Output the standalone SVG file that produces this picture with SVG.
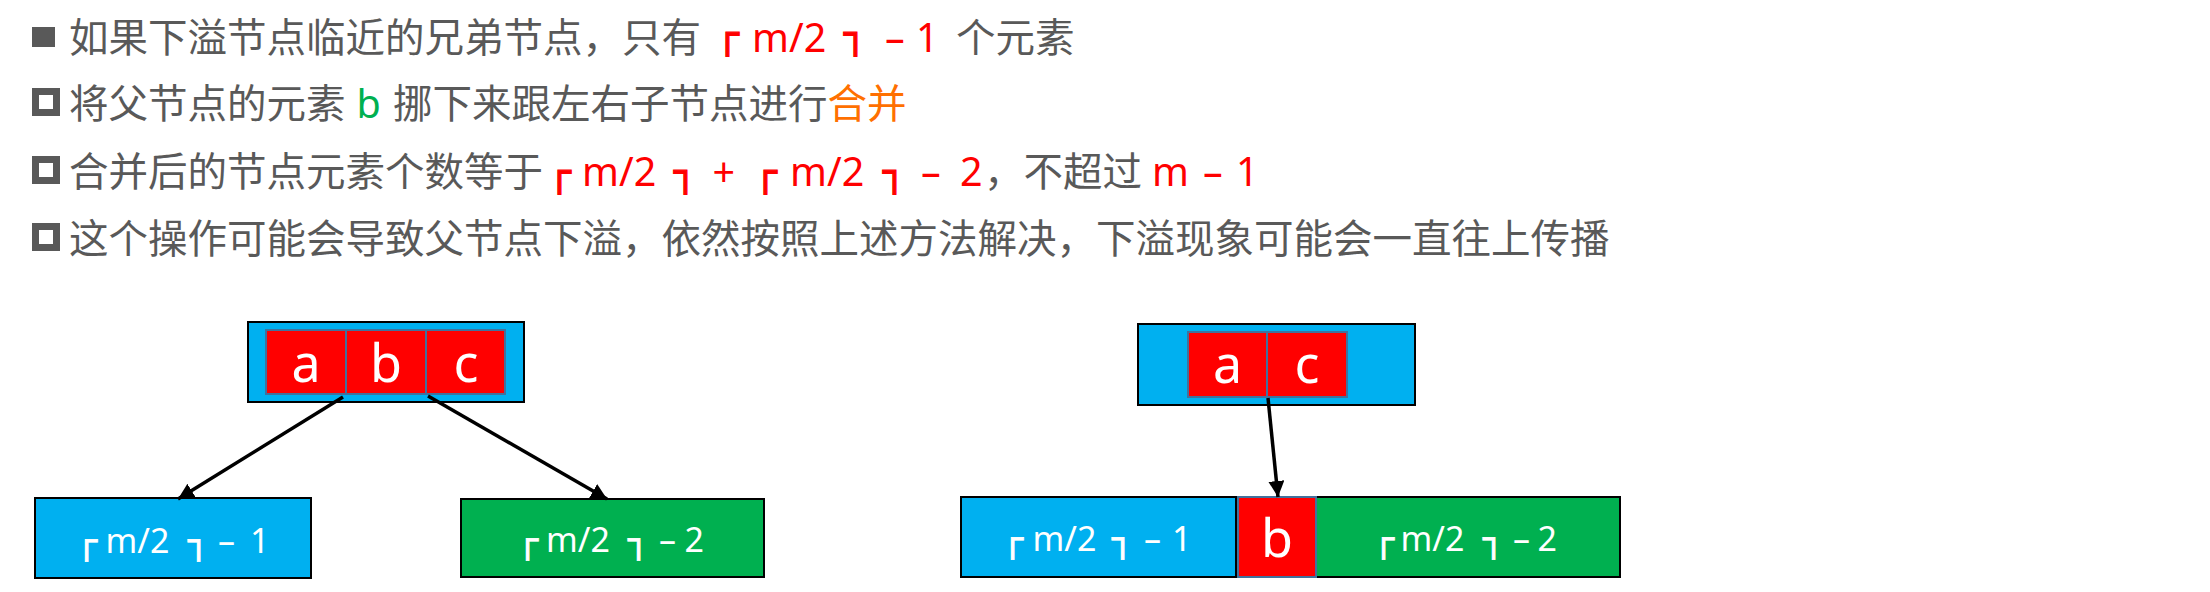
<svg xmlns="http://www.w3.org/2000/svg" width="2210" height="592" viewBox="0 0 2210 592">
<style>
.t{font-family:"Noto Sans CJK SC","Noto Sans",sans-serif;font-size:39.5px;fill:#595959}
.r{fill:#FF0000}
.g{fill:#00B050}
.o{fill:#FF7000}
.lat{font-family:"Noto Sans","Noto Sans CJK SC",sans-serif}
.bx{font-family:"DejaVu Sans",sans-serif;font-size:38px;stroke:#FF0000;stroke-width:1.2}
.node{stroke:#000;stroke-width:2}
.blue{fill:#00B0F0}
.green{fill:#00B050}
.cell{fill:#FF0000;stroke:#41719C;stroke-width:2}
.cl{font-family:"Noto Sans",sans-serif;font-size:52px;fill:#FFFFFF;text-anchor:middle}
.lbl{font-family:"Noto Sans",sans-serif;font-size:34px;fill:#FFFFFF}
.lbx{font-family:"DejaVu Sans",sans-serif;font-size:35px;stroke:#FFFFFF;stroke-width:0.8}
.edge{stroke:#000;stroke-width:3.5;fill:none;marker-end:url(#ah)}
.bul{fill:#595959}
.hbul{fill:none;stroke:#595959;stroke-width:7}
</style>
<defs>
<marker id="ah" viewBox="0 0 10 10" refX="10" refY="5" markerWidth="16" markerHeight="16" markerUnits="userSpaceOnUse" orient="auto">
<path d="M0,0 L10,5 L0,10 z" fill="#000"/>
</marker>
</defs>
<rect width="2210" height="592" fill="#FFFFFF"/>
<g id="text-lines">
<rect class="bul" x="32" y="27" width="23" height="20"/>
<text class="t" x="69" y="52">如果下溢节点临近的兄弟节点，只有<tspan class="bx r" x="716" dy="-5">┌</tspan><tspan class="lat r" x="752" dy="5">m/2</tspan><tspan class="bx r" x="844" dy="-5">┐</tspan><tspan class="lat r" x="885" dy="5">–</tspan><tspan class="lat r" x="916">1</tspan><tspan x="956">个元素</tspan></text>
<rect class="hbul" x="35.5" y="91.5" width="21" height="21"/>
<text class="t" x="69" y="118">将父节点的元素<tspan class="lat g" x="356.5">b</tspan><tspan x="393">挪下来跟左右子节点进行</tspan><tspan class="o">合并</tspan></text>
<rect class="hbul" x="35.5" y="159.5" width="21" height="21"/>
<text class="t" x="69" y="186">合并后的节点元素个数等于<tspan class="bx r" x="548" dy="-1">┌</tspan><tspan class="lat r" x="582" dy="1">m/2</tspan><tspan class="bx r" x="674" dy="-1">┐</tspan><tspan class="lat r" x="712.6" dy="1">+</tspan><tspan class="bx r" x="754" dy="-1">┌</tspan><tspan class="lat r" x="790" dy="1">m/2</tspan><tspan class="bx r" x="883" dy="-1">┐</tspan><tspan class="lat r" x="921" dy="1">–</tspan><tspan class="lat r" x="960">2</tspan><tspan x="984">，不超过</tspan><tspan class="lat r" x="1152">m</tspan><tspan class="lat r" x="1203">–</tspan><tspan class="lat r" x="1236">1</tspan></text>
<rect class="hbul" x="35.5" y="226.5" width="21" height="21"/>
<text class="t" x="69" y="253">这个操作可能会导致父节点下溢，依然按照上述方法解决，下溢现象可能会一直往上传播</text>
</g>
<g id="node-parent-abc">
<rect class="node blue" x="248" y="322" width="276" height="80"/>
<rect class="cell" x="266" y="330" width="80" height="64"/>
<rect class="cell" x="346" y="330" width="80" height="64"/>
<rect class="cell" x="426" y="330" width="79" height="64"/>
<text class="cl" x="306" y="382">a</text>
<text class="cl" x="386" y="382">b</text>
<text class="cl" x="466" y="382">c</text>
</g>
<g id="node-left-child">
<rect class="node blue" x="35" y="498" width="276" height="80"/>
<text class="lbl" y="553"><tspan class="lbx" x="76">┌</tspan><tspan x="105.5">m/2</tspan><tspan class="lbx" x="188">┐</tspan><tspan x="218">–</tspan><tspan x="250">1</tspan></text>
</g>
<g id="node-right-child">
<rect class="node green" x="461" y="499" width="303" height="78"/>
<text class="lbl" y="552"><tspan class="lbx" x="517">┌</tspan><tspan x="546">m/2</tspan><tspan class="lbx" x="628">┐</tspan><tspan x="659">–</tspan><tspan x="684.5">2</tspan></text>
</g>
<g id="node-parent-ac">
<rect class="node blue" x="1138" y="324" width="277" height="81"/>
<rect class="cell" x="1188" y="332" width="79" height="65"/>
<rect class="cell" x="1267" y="332" width="80" height="65"/>
<text class="cl" x="1227.5" y="383">a</text>
<text class="cl" x="1307" y="383">c</text>
</g>
<g id="node-merged">
<rect class="node blue" x="961" y="497" width="275" height="80"/>
<rect class="node green" x="1316" y="497" width="304" height="80"/>
<rect class="cell" x="1238" y="497" width="78" height="80"/>
<text class="lbl" y="551"><tspan class="lbx" x="1002">┌</tspan><tspan x="1032.5">m/2</tspan><tspan class="lbx" x="1112">┐</tspan><tspan x="1144">–</tspan><tspan x="1172">1</tspan></text>
<text class="cl" x="1277" y="557">b</text>
<text class="lbl" y="551"><tspan class="lbx" x="1373">┌</tspan><tspan x="1400.5">m/2</tspan><tspan class="lbx" x="1483">┐</tspan><tspan x="1513">–</tspan><tspan x="1537.5">2</tspan></text>
</g>
<g id="connectors">
<path class="edge" d="M343,397 L178,499"/>
<path class="edge" d="M428,396 L607,499"/>
<path class="edge" d="M1268,398 L1278,497"/>
</g>
</svg>
